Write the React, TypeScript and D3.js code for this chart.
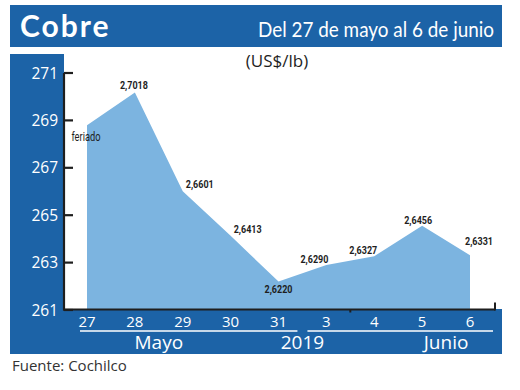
import { area, curveLinear, scaleLinear, scalePoint } from "d3";

const days = ["27", "28", "29", "30", "31", "3", "4", "5", "6"];
// cents per lb; first day is a holiday (feriado) carried over
const prices = [268.8, 270.18, 266.01, 264.13, 262.2, 262.9, 263.27, 264.56, 263.31];
const priceLabels = ["feriado", "2,7018", "2,6601", "2,6413", "2,6220", "2,6290", "2,6327", "2,6456", "2,6331"];
const yTicks = [261, 263, 265, 267, 269, 271];
const months = ["Mayo", "2019", "Junio"];

const W = 520;
const H = 390;
const BLUE = "#1c63a7";
const AREA = "#7cb4e0";
const INK = "#1e1e1e";

// where each value label sits relative to its point
const labelOffset: [number, number][] = [
  [-1, 16], [-1, -3], [17, -3], [17, -3], [0, 11], [-12, -2], [-11, -2], [-4, -2], [9, -10],
];

const App = () => {
  const x = scalePoint<string>().domain(days).range([87, 470]);
  const y = scaleLinear().domain([261, 271]).range([310, 73]);
  const step = x.step();

  const areaPath = area<number>()
    .x((_, i) => x(days[i]) as number)
    .y0(y(261) - 1)
    .y1((d) => y(d))
    .curve(curveLinear)(prices) as string;

  const axisY = y(261) - 0.5;
  const x31 = x("31") as number;
  const x3 = x("3") as number;
  const mid = (x31 + x3) / 2;
  const monthX = [
    ((x("28") as number) + (x("29") as number)) / 2,
    mid,
    (x("5") as number) + step / 2,
  ];

  return (
    <svg
      width={W}
      height={H}
      style={{ position: "absolute", left: 0, top: 0, background: "#fff" }}
    >
      {/* header */}
      <rect x={10} y={5} width={492} height={42} fill={BLUE} />
      <text x={20} y={37} fill="#fff" fontFamily="Lato" fontWeight={700} fontSize={30} letterSpacing={2}>
        Cobre
      </text>
      <text
        x={258}
        y={37}
        fill="#fff"
        fontFamily="Lato"
        fontSize={20.5}
        textLength={236}
        lengthAdjust="spacingAndGlyphs"
      >
        Del 27 de mayo al 6 de junio
      </text>

      {/* blue frame */}
      <rect x={10} y={54} width={54} height={300} fill={BLUE} />
      <rect x={10} y={309} width={492} height={45} fill={BLUE} />

      <text x={277} y={67} textAnchor="middle" fill={INK} fontFamily="'Open Sans'" fontSize={17}>
        (US$/lb)
      </text>

      {/* area */}
      <path d={areaPath} fill={AREA} />

      {/* y axis */}
      <line x1={64} x2={64} y1={y(271)} y2={axisY + 1} stroke={INK} strokeWidth={2.2} />
      {yTicks.map((t) => (
        <g key={t}>
          <line x1={64} x2={73} y1={y(t)} y2={y(t)} stroke={INK} strokeWidth={2.2} />
          <text x={58} y={y(t) + 5.5} textAnchor="end" fill="#fff" fontFamily="'Open Sans'" fontSize={15.5}>
            {t}
          </text>
        </g>
      ))}

      {/* x axis */}
      <line x1={63} x2={495} y1={axisY} y2={axisY} stroke={INK} strokeWidth={2} />
      <line x1={495} x2={495} y1={axisY + 1} y2={axisY - 7} stroke={INK} strokeWidth={2} />
      <line x1={(x3 + (x("4") as number)) / 2} x2={(x3 + (x("4") as number)) / 2} y1={axisY} y2={axisY + 3} stroke={INK} strokeWidth={2} />

      {days.map((d) => (
        <text key={d} x={x(d)} y={327} textAnchor="middle" fill="#fff" fontFamily="'Open Sans'" fontSize={15}>
          {d}
        </text>
      ))}
      <line x1={(x("27") as number) - 7} x2={mid - 5} y1={331} y2={331} stroke="#fff" strokeWidth={1.5} />
      <line x1={mid + 5} x2={(x("6") as number) + 23} y1={331} y2={331} stroke="#fff" strokeWidth={1.5} />
      {months.map((m, i) => (
        <text key={m} x={monthX[i]} y={349} textAnchor="middle" fill="#fff" fontFamily="'Open Sans'" fontSize={19}>
          {m}
        </text>
      ))}

      {/* value labels */}
      {prices.map((p, i) => {
        const w = i === 0 ? 29 : 28;
        const cx = (x(days[i]) as number) + labelOffset[i][0];
        return (
          <text
            key={i}
            x={cx - w / 2}
            y={y(p) + labelOffset[i][1]}
            fill={INK}
            fontFamily="'Roboto'"
            fontWeight={i === 0 ? 400 : 700}
            fontSize={i === 0 ? 12.5 : 11.5}
            textLength={w}
            lengthAdjust="spacingAndGlyphs"
          >
            {priceLabels[i]}
          </text>
        );
      })}

      <text x={12} y={371} fill="#333" fontFamily="'Open Sans'" fontSize={15}>
        Fuente: Cochilco
      </text>
    </svg>
  );
};

export default App;
